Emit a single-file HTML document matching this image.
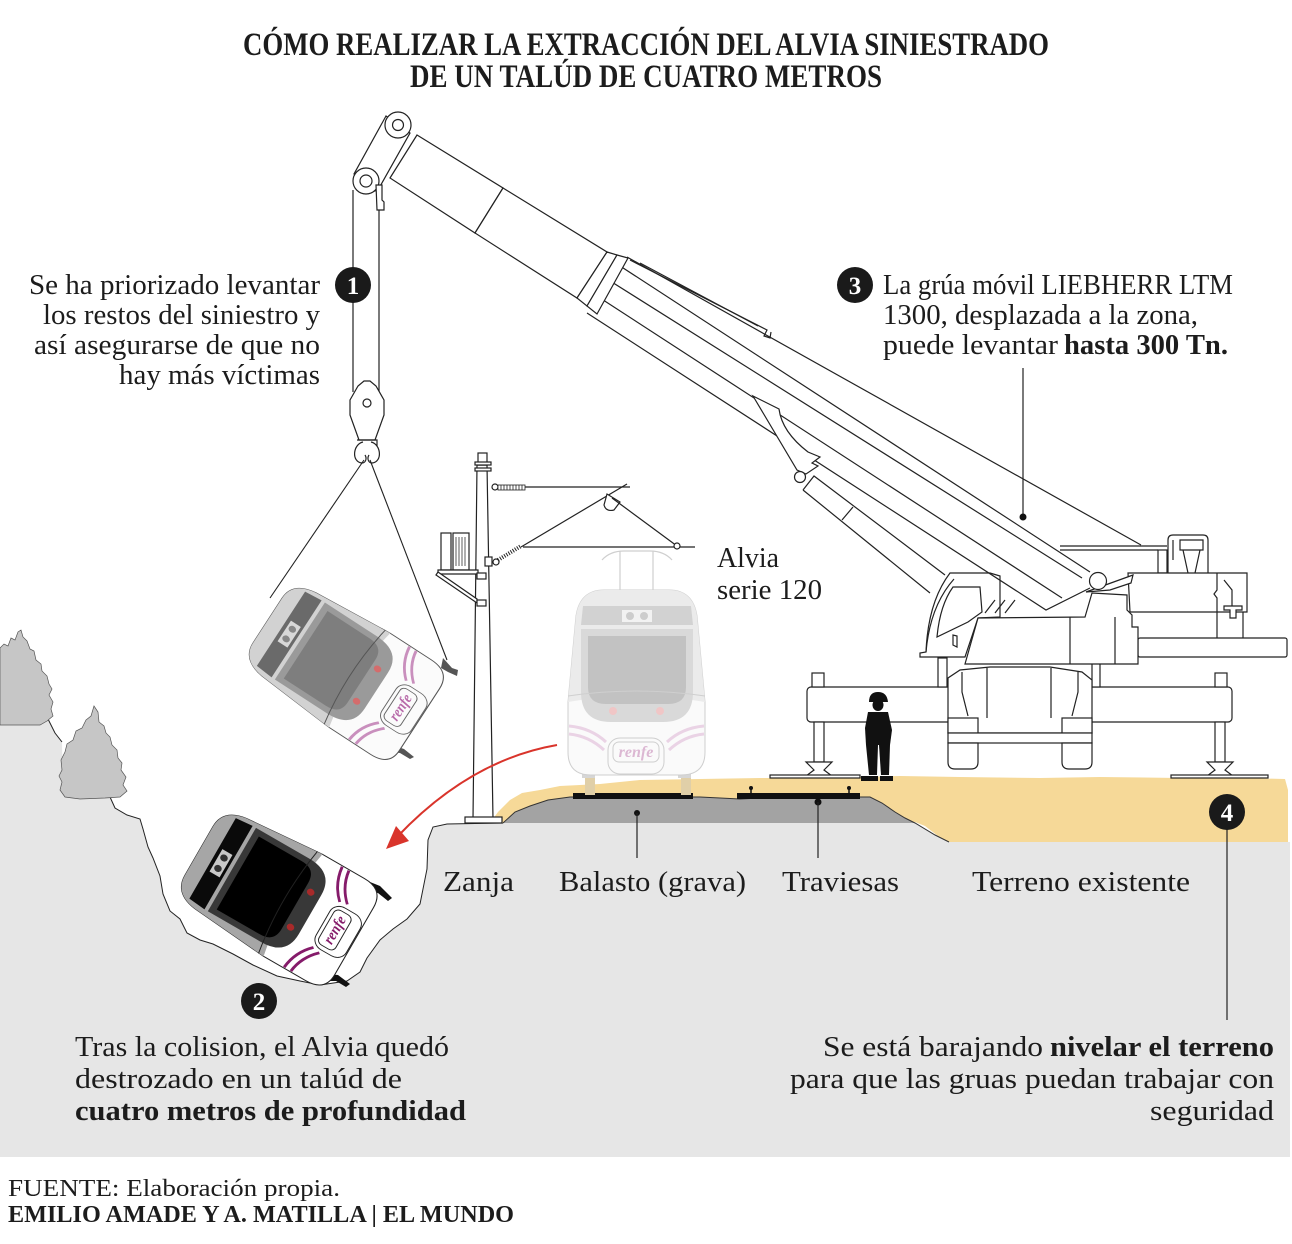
<!DOCTYPE html>
<html><head><meta charset="utf-8">
<style>
html,body{margin:0;padding:0;background:#fff;}
svg{display:block;}
text{font-family:"Liberation Serif",serif;fill:#1c1c1c;}
.ln{fill:none;stroke:#222;stroke-width:1.2;}
.wf{fill:#fff;stroke:#222;stroke-width:1.2;}
</style></head><body>
<svg width="1292" height="1244" viewBox="0 0 1292 1244" xmlns="http://www.w3.org/2000/svg">

<!-- TITLE -->
<text x="243" y="55" font-size="33" font-weight="bold" textLength="806" lengthAdjust="spacingAndGlyphs">CÓMO REALIZAR LA EXTRACCIÓN DEL ALVIA SINIESTRADO</text>
<text x="410" y="87" font-size="33" font-weight="bold" textLength="472" lengthAdjust="spacingAndGlyphs">DE UN TALÚD DE CUATRO METROS</text>

<!-- GROUND -->
<path d="M0,724 L20,723 L48,719 L55,733 L62,742 L63,790 L75,797 L110,797 L115,808 L127,815 L140,819 L143,829 L148,847 L153,858 L160,876 L163,894 L170,911 L180,919 L187,933 L200,940 L213,944 L233,954 L253,965 L277,976 L300,981 L320,985 L347,981 L360,972 L367,958 L380,940 L393,929 L407,919 L420,904 L427,869 L428,840 L433,827 L447,824 L503,823 L915,823 L949,842 L1290,842 L1290,1157 L0,1157 Z" fill="#e6e6e6"/>
<path d="M110,797 L115,808 L127,815 L140,819 L143,829 L148,847 L153,858 L160,876 L163,894 L170,911 L180,919 L187,933 L200,940 L213,944 L233,954 L253,965 L277,976 L300,981 L320,985 L347,981 L360,972 L367,958 L380,940 L393,929 L407,919 L420,904 L427,869 L428,840 L433,827 L447,824 L503,823" fill="none" stroke="#222" stroke-width="1"/>
<path d="M48,719 L55,733 L62,742" fill="none" stroke="#222" stroke-width="1"/>

<!-- trees -->
<path d="M0,648 L4,644 L8,646 L11,638 L15,640 L18,632 L21,630 L23,637 L27,641 L30,649 L34,651 L36,660 L41,664 L42,671 L47,676 L49,684 L52,689 L49,695 L53,702 L51,709 L53,716 L47,721 L40,725 L0,725 Z" fill="#c6c6c6" stroke="#555" stroke-width="0.7"/>
<path d="M62,770 L61,760 L65,752 L67,744 L73,740 L76,731 L82,728 L86,720 L91,716 L94,706 L98,712 L99,722 L104,726 L106,733 L110,737 L112,745 L117,750 L118,758 L122,763 L121,770 L126,777 L123,785 L127,791 L120,797 L105,798 L80,799 L65,797 L60,790 L62,782 L59,776 Z" fill="#c6c6c6" stroke="#555" stroke-width="0.7"/>

<!-- sand -->
<path d="M490,823 L498,812 L510,800 L522,793 L540,790 L560,786 L600,784 L640,780 L700,779 L760,778 L820,778 L900,776 L960,777 L1040,778 L1100,777 L1180,778 L1240,778 L1285,779 L1288,790 L1288,842 L949,842 L938,836 L925,826 L915,822 Z" fill="#f6d998"/>
<!-- ballast -->
<path d="M503,823 L515,812 L530,806 L548,800 L570,797 L700,797 L740,799 L780,797 L870,797 L882,803 L895,812 L905,818 L915,823 Z" fill="#a3a3a3"/>
<path d="M503,823 L515,812 L530,806 L548,800 L570,797 L700,797 L740,799 L780,797 L870,797 L882,803 L895,812 L905,818 L915,823 L935,835 L949,842" fill="none" stroke="#333" stroke-width="1"/>
<rect x="573" y="793" width="120" height="6" fill="#111"/>
<rect x="737" y="793" width="123" height="6" fill="#111"/>
<g stroke="#111" stroke-width="1.5">
<line x1="587" y1="788" x2="587" y2="795"/><line x1="687" y1="788" x2="687" y2="795"/>
<line x1="751" y1="788" x2="751" y2="795"/><line x1="849" y1="788" x2="849" y2="795"/>
</g>
<g fill="#111"><circle cx="587" cy="788" r="2"/><circle cx="687" cy="788" r="2"/><circle cx="751" cy="788" r="2"/><circle cx="849" cy="788" r="2"/></g>
<!-- leaders ground -->
<circle cx="637" cy="813" r="3" fill="#111"/><line x1="637" y1="813" x2="637" y2="858" stroke="#222" stroke-width="1.2"/>
<circle cx="818" cy="802" r="3.5" fill="#111"/><line x1="818" y1="802" x2="818" y2="858" stroke="#222" stroke-width="1.2"/>

<!-- CATENARY POLE -->
<path d="M477,465 L473,819 L493,819 L487,465 Z" class="wf"/>
<rect x="478" y="453" width="9" height="12" class="wf"/>
<rect x="475" y="462" width="16" height="3" class="wf"/>
<rect x="475" y="468" width="16" height="3" class="wf"/>
<rect x="465" y="817" width="37" height="6" class="wf"/>
<!-- equipment -->
<rect x="441" y="533" width="10" height="37" class="wf"/>
<rect x="453" y="533" width="16" height="37" class="wf"/>
<g stroke="#333" stroke-width="0.8"><line x1="456" y1="537" x2="456" y2="566"/><line x1="459" y1="537" x2="459" y2="566"/><line x1="462" y1="537" x2="462" y2="566"/><line x1="465" y1="537" x2="465" y2="566"/></g>
<path d="M438,570 L478,570 L478,574 L438,574 Z" class="wf"/>
<path d="M438,572 L477,599 L477,603 L436,575 Z" class="wf"/>
<rect x="477" y="573" width="9" height="6" class="wf"/>
<rect x="477" y="600" width="9" height="6" class="wf"/>
<!-- arms -->
<circle cx="495" cy="487" r="3" class="wf"/>
<rect x="498" y="485" width="27" height="5" fill="#fff" stroke="#222" stroke-width="0.8"/>
<g stroke="#222" stroke-width="0.8"><line x1="501" y1="485" x2="501" y2="490"/><line x1="504" y1="485" x2="504" y2="490"/><line x1="507" y1="485" x2="507" y2="490"/><line x1="510" y1="485" x2="510" y2="490"/><line x1="513" y1="485" x2="513" y2="490"/><line x1="516" y1="485" x2="516" y2="490"/><line x1="519" y1="485" x2="519" y2="490"/><line x1="522" y1="485" x2="522" y2="490"/></g>
<line x1="525" y1="487" x2="630" y2="487" class="ln"/>
<rect x="485" y="557" width="7" height="9" class="wf"/>
<circle cx="496" cy="562" r="3" class="wf"/>
<path d="M498,560 L521,546" stroke="#222" stroke-width="4" stroke-dasharray="1 1.5"/>
<line x1="523" y1="547" x2="695" y2="547" class="ln"/>
<line x1="521" y1="547" x2="627" y2="484" class="ln"/>
<path d="M607,494 L604,505 Q606,512 614,510 L620,502 Z" class="wf"/>
<line x1="612" y1="498" x2="677" y2="546" class="ln"/>
<circle cx="677" cy="546" r="3" class="wf"/>

<!-- UPRIGHT TRAIN (faded) -->
<g stroke="#cfcfcf" stroke-width="1.2" fill="none">
<line x1="620" y1="551" x2="620" y2="590"/><line x1="653" y1="551" x2="653" y2="590"/>
<path d="M602,560 Q610,551 624,551 L650,551 Q664,551 672,560"/>
</g>
<rect x="585" y="770" width="10" height="25" fill="#e0cfa8"/>
<rect x="681" y="770" width="10" height="25" fill="#e0cfa8"/>
<g transform="translate(636,682)">
<rect x="-54" y="82" width="13" height="14" fill="#d6d6d6"/><rect x="42" y="82" width="13" height="14" fill="#d6d6d6"/>
<path d="M-68,20 L-60,-66 Q-56,-92 -32,-92 L33,-92 Q57,-92 61,-66 L69,20 L69,70 Q69,93 45,93 L-45,93 Q-68,93 -68,70 Z" fill="#fafafa" stroke="#cfcfcf" stroke-width="1"/>
<path d="M-68,20 L-60,-66 Q-56,-92 -32,-92 L33,-92 Q57,-92 61,-66 L69,20 Q0,8 -68,20 Z" fill="#ebebeb"/>
<path d="M-53,-76 L55,-76 L57,-57 L-55,-57 Z" fill="#d2d2d2"/>
<rect x="-14" y="-72" width="30" height="12" fill="#f2f2f2"/>
<circle cx="-6" cy="-66" r="4" fill="#cdcdcd"/><circle cx="8" cy="-66" r="4" fill="#cdcdcd"/>
<path d="M-55,-53 L57,-53 L57,10 Q57,40 27,40 L-25,40 Q-55,40 -55,10 Z" fill="#d9d9d9"/>
<path d="M-48,-46 L50,-46 L50,5 Q50,22 32,22 L-30,22 Q-48,22 -48,5 Z" fill="#c2c2c2"/>
<circle cx="-23" cy="29" r="4" fill="#f0c6c6"/><circle cx="24" cy="29" r="4" fill="#f0c6c6"/>
<path d="M-68,14 Q0,4 69,14" fill="none" stroke="#cfcfcf"/>
<g fill="none" stroke="#ead3e5" stroke-width="3">
<path d="M-67,44 Q-45,46 -30,60"/><path d="M-67,52 Q-47,54 -32,68"/>
<path d="M68,44 Q46,46 31,60"/><path d="M68,52 Q48,54 33,68"/>
</g>
<rect x="-28" y="56" width="56" height="36" rx="12" fill="#fafafa" stroke="#cfcfcf"/>
<rect x="-23" y="60" width="46" height="20" rx="6" fill="none" stroke="#cfcfcf"/>
<text x="0" y="75" text-anchor="middle" font-style="italic" font-weight="bold" font-size="16" style="fill:#dcb8d3">renfe</text>
</g>

<!-- CRANE: outriggers & carrier -->
<rect x="807" y="687" width="425" height="35" rx="4" class="wf"/>
<rect x="812" y="673" width="12" height="14" class="wf"/>
<rect x="1215" y="673" width="12" height="14" class="wf"/>
<rect x="814" y="722" width="10" height="40" class="wf"/>
<rect x="1215" y="722" width="10" height="40" class="wf"/>
<path d="M806,762 L832,762 L824,770 L832,776 L806,776 L814,770 Z" class="wf"/>
<path d="M1207,762 L1233,762 L1225,770 L1233,776 L1207,776 L1215,770 Z" class="wf"/>
<rect x="770" y="775" width="90" height="3" class="wf"/>
<rect x="1171" y="775" width="97" height="3" class="wf"/>
<rect x="938" y="658" width="9" height="29" class="wf"/>
<rect x="1092" y="663" width="8" height="24" class="wf"/>
<path d="M948,733 L948,678 L960,670 L990,667 L1050,667 L1082,672 L1092,680 L1092,733 Z" class="wf"/>
<path d="M962,672 L962,692 L968,716 M1078,672 L1078,692 L1072,716 M987,668 L987,718 M1051,668 L1051,718" class="ln"/>
<rect x="948" y="718" width="30" height="15" class="wf"/>
<rect x="1062" y="718" width="30" height="15" class="wf"/>
<rect x="948" y="733" width="144" height="10" class="wf"/>
<path d="M948,743 L978,743 L978,762 Q978,769 971,769 L955,769 Q948,769 948,762 Z" class="wf"/>
<path d="M1062,743 L1092,743 L1092,762 Q1092,769 1085,769 L1069,769 Q1062,769 1062,762 Z" class="wf"/>
<!-- rear -->
<path d="M1060,546 L1167,546 M1060,550 L1158,550" class="ln"/>
<rect x="1158" y="550" width="9" height="23" class="wf"/>
<path d="M1168,573 L1168,540 Q1168,535 1173,535 L1203,535 Q1208,535 1208,540 L1208,573" class="wf"/>
<path d="M1180,540 L1203,540 L1203,550 L1180,550 Z M1183,550 L1188,573 M1200,550 L1195,573 M1173,540 L1173,560" class="ln"/>
<path d="M1128,573 L1247,573 L1247,612 L1130,612 Z" class="wf"/>
<path d="M1217,573 L1217,590 L1214,594 L1217,598 L1217,612 M1224,580 L1232,590 L1232,612" class="ln"/>
<path d="M1224,606 L1242,606 L1242,610 L1236,610 L1236,618 L1230,618 L1230,610 L1224,610 Z" class="wf"/>
<path d="M1217,612 L1217,638 M1243,612 L1243,638" class="ln"/>
<rect x="1138" y="638" width="149" height="19" rx="2" class="wf"/>
<!-- cab -->
<path d="M920,657 L920,653 L926,652 Q928,602 950,573 L990,573 L1000,576 L1000,617 L978,618 L965,657 Z" class="wf"/>
<path d="M926,652 Q930,606 954,579" class="ln"/>
<path d="M937,637 Q940,605 953,587 L980,587 L982,612 L968,622 Z" class="wf"/>
<path d="M953,635 L953,645 L957,647 L957,636 Z" class="wf"/>
<path d="M985,613 L995,600 M995,613 L1005,600 M1005,613 L1015,600" class="ln"/>

<!-- BOOM -->
<path d="M627,257 L1141,545" class="ln"/>
<path d="M630,260 L767,330 L764,336 L770,338 L771,332" class="ln"/>
<path d="M640,263 L758,326" class="ln" stroke-width="0.8"/>
<path d="M617,264 L1090,572" class="ln"/>
<path d="M607,279 L1082,578" class="ln"/>
<path d="M597,296 L1062,598" class="ln"/>
<path d="M587,313 L1046,610 L1090,588" class="ln"/>
<!-- head -->
<path d="M417,135 L503,188 L475,233 L390,178 Z" class="wf"/>
<path d="M503,188 L607,252 L577,298 L475,233 Z" class="wf"/>
<path d="M607,252 L617,255 L587,306 L577,298 Z" class="wf"/>
<path d="M617,255 L628,258 L597,314 L587,306 Z" class="wf"/>
<path d="M386,116 L354,174 L368,193 L378,190 L410,133 Z" class="wf"/>
<circle cx="398" cy="125" r="13" class="wf"/><circle cx="398" cy="125" r="5.5" class="wf"/>
<circle cx="366" cy="181" r="13" class="wf"/><circle cx="366" cy="181" r="6" class="wf"/>
<!-- cylinder -->
<path d="M803,490 L814,476 L945,575 M803,490 L930,593 M842,520 L853,507" class="ln"/>
<!-- sword -->
<path d="M753,396 L779,409 Q782,432 808,452 L820,457 L812,463 L818,466 L806,474 L797,470 Z" class="wf"/>
<circle cx="800" cy="477" r="5.5" class="wf"/>
<!-- main body block -->
<path d="M965,664 L978,618 L1085,617 L1092,593 L1127,595 L1127,610 L1132,615 L1132,627 L1138,627 L1138,664 Z" class="wf"/>
<path d="M1070,617 L1070,664 M1115,617 L1115,664" class="ln"/>
<path d="M1086,592 L1133,575 L1131,583 L1110,590 Z" class="wf"/>
<circle cx="1098" cy="581" r="8.5" class="wf"/>
<!-- leader 3 -->
<line x1="1023" y1="368" x2="1023" y2="517" stroke="#222" stroke-width="1.2"/>
<circle cx="1023" cy="517" r="3.5" fill="#111"/>
<!-- worker -->
<g fill="#111">
<path d="M869,702 Q869,692 878,692 Q887,692 888,702 Z"/>
<ellipse cx="878" cy="705" rx="5.5" ry="6"/>
<path d="M868,712 L888,712 L892,730 L890,745 L866,745 L865,728 Z"/>
<path d="M866,745 L878,745 L877,775 L869,775 Z"/>
<path d="M879,745 L890,745 L889,775 L881,775 Z"/>
<path d="M861,776 L878,776 L878,781 L861,781 Z"/>
<path d="M880,776 L893,776 L893,781 L880,781 Z"/>
</g>

<!-- HOOK & CABLES -->
<line x1="353" y1="190" x2="353" y2="392" stroke="#222" stroke-width="1.2"/>
<line x1="379" y1="205" x2="379" y2="392" stroke="#222" stroke-width="1.2"/>
<path d="M376,185 L382,185 L382,200 L384,202 L384,210 L377,210 Z" class="wf"/>
<path d="M364,381 L370,381 L376,386 L384,400 L384,415 L375,440 L359,440 L350,415 L350,400 L358,386 Z" class="wf"/>
<circle cx="367" cy="403" r="4" class="wf"/>
<path d="M357,440 L377,440 L377,446" class="ln"/>
<path d="M363,442 C353,444 351,462 362,463 C366,463 367,458 365,455 M371,442 C381,444 383,462 372,463 C368,463 367,458 369,455" class="ln"/>
<!-- slings -->
<line x1="364" y1="460" x2="270" y2="598" stroke="#222" stroke-width="1.1"/>
<line x1="370" y1="460" x2="447" y2="660" stroke="#222" stroke-width="1.1"/>

<!-- HANGING TRAIN -->
<path d="M443,658 L452,668 L458,670 L457,676 L448,672 L441,668 Z" fill="#555"/>
<path d="M392,745 L404,749 L414,757 L410,759 L400,753 L390,752 Z" fill="#555"/>
<g transform="translate(343,670) rotate(-57) scale(0.82,0.98)">
<path d="M-68,20 L-60,-66 Q-56,-92 -32,-92 L33,-92 Q57,-92 61,-66 L69,20 L69,70 Q69,93 45,93 L-45,93 Q-68,93 -68,70 Z" fill="#fbfbfb" stroke="#555" stroke-width="1.1"/>
<path d="M-68,20 L-60,-66 Q-56,-92 -32,-92 L33,-92 Q57,-92 61,-66 L69,20 Q0,8 -68,20 Z" fill="#d2d2d2"/>
<path d="M-53,-76 L55,-76 L57,-57 L-55,-57 Z" fill="#6a6a6a"/>
<rect x="-14" y="-72" width="30" height="12" fill="#d8d8d8"/>
<circle cx="-6" cy="-66" r="4" fill="#888"/><circle cx="8" cy="-66" r="4" fill="#888"/>
<path d="M-55,-53 L57,-53 L57,10 Q57,40 27,40 L-25,40 Q-55,40 -55,10 Z" fill="#9a9a9a"/>
<path d="M-48,-46 L50,-46 L50,5 Q50,22 32,22 L-30,22 Q-48,22 -48,5 Z" fill="#7e7e7e"/>
<circle cx="-23" cy="29" r="4" fill="#d46c6c"/><circle cx="24" cy="29" r="4" fill="#d46c6c"/>
<path d="M-68,14 Q0,4 69,14" fill="none" stroke="#555"/>
<g fill="none" stroke="#c98fbd" stroke-width="3">
<path d="M-67,44 Q-45,46 -30,60"/><path d="M-67,52 Q-47,54 -32,68"/>
<path d="M68,44 Q46,46 31,60"/><path d="M68,52 Q48,54 33,68"/>
</g>
<rect x="-28" y="56" width="56" height="36" rx="12" fill="#fbfbfb" stroke="#666"/>
<rect x="-23" y="60" width="46" height="20" rx="6" fill="none" stroke="#666"/>
<text x="0" y="75" text-anchor="middle" font-style="italic" font-weight="bold" font-size="16" style="fill:#b86aa9">renfe</text>
</g>

<!-- CRASHED TRAIN -->
<path d="M370,882 L380,886 L392,898 L388,901 L378,893 L369,892 Z" fill="#111"/>
<path d="M327,974 L338,975 L350,984 L346,987 L336,981 L326,981 Z" fill="#111"/>
<g transform="translate(276,896) rotate(-60) scale(0.86,0.97)">
<path d="M-68,20 L-60,-66 Q-56,-92 -32,-92 L33,-92 Q57,-92 61,-66 L69,20 L69,70 Q69,93 45,93 L-45,93 Q-68,93 -68,70 Z" fill="#fff" stroke="#222" stroke-width="1.1"/>
<path d="M-68,20 L-60,-66 Q-56,-92 -32,-92 L33,-92 Q57,-92 61,-66 L69,20 Q0,8 -68,20 Z" fill="#a6a6a6"/>
<path d="M-53,-76 L55,-76 L57,-57 L-55,-57 Z" fill="#0a0a0a"/>
<rect x="-14" y="-72" width="30" height="12" fill="#c8c8c8"/>
<circle cx="-6" cy="-66" r="4" fill="#333"/><circle cx="8" cy="-66" r="4" fill="#333"/>
<path d="M-55,-53 L57,-53 L57,10 Q57,40 27,40 L-25,40 Q-55,40 -55,10 Z" fill="#383838"/>
<path d="M-48,-46 L50,-46 L50,5 Q50,22 32,22 L-30,22 Q-48,22 -48,5 Z" fill="#000"/>
<circle cx="-23" cy="29" r="4" fill="#a82a2a"/><circle cx="24" cy="29" r="4" fill="#a82a2a"/>
<path d="M-68,14 Q0,4 69,14" fill="none" stroke="#222"/>
<g fill="none" stroke="#851b6a" stroke-width="3">
<path d="M-67,44 Q-45,46 -30,60"/><path d="M-67,52 Q-47,54 -32,68"/>
<path d="M68,44 Q46,46 31,60"/><path d="M68,52 Q48,54 33,68"/>
</g>
<rect x="-28" y="56" width="56" height="36" rx="12" fill="#fff" stroke="#222"/>
<rect x="-23" y="60" width="46" height="20" rx="6" fill="none" stroke="#222"/>
<text x="0" y="75" text-anchor="middle" font-style="italic" font-weight="bold" font-size="16" style="fill:#851b6a">renfe</text>
</g>

<!-- RED ARROW -->
<path d="M557,745 Q470,760 397,837" fill="none" stroke="#d9342b" stroke-width="2"/>
<path d="M386,849 L396,826 L409,841 Z" fill="#d9342b"/>

<!-- BADGES -->
<g>
<circle cx="353" cy="285" r="18" fill="#1a1a1a"/>
<circle cx="855" cy="285" r="18" fill="#1a1a1a"/>
<circle cx="259" cy="1001" r="18" fill="#1a1a1a"/>
<line x1="1227" y1="825" x2="1227" y2="1020" stroke="#222" stroke-width="1.2"/>
<circle cx="1227" cy="812" r="18" fill="#1a1a1a"/>
</g>
<g font-weight="bold" font-size="25" text-anchor="middle" style="fill:#fff">
<text x="353" y="294" style="fill:#fff">1</text>
<text x="855" y="294" style="fill:#fff">3</text>
<text x="259" y="1010" style="fill:#fff">2</text>
<text x="1227" y="821" style="fill:#fff">4</text>
</g>

<!-- TEXT BLOCKS -->
<g font-size="28">
<text x="29" y="294" textLength="291" lengthAdjust="spacingAndGlyphs">Se ha priorizado levantar</text>
<text x="43" y="324" textLength="277" lengthAdjust="spacingAndGlyphs">los restos del siniestro y</text>
<text x="34" y="354" textLength="286" lengthAdjust="spacingAndGlyphs">así asegurarse de que no</text>
<text x="119" y="384" textLength="201" lengthAdjust="spacingAndGlyphs">hay más víctimas</text>

<text x="883" y="294" textLength="350" lengthAdjust="spacingAndGlyphs">La grúa móvil LIEBHERR LTM</text>
<text x="883" y="324" textLength="315" lengthAdjust="spacingAndGlyphs">1300, desplazada a la zona,</text>
<text x="883" y="354" textLength="175" lengthAdjust="spacingAndGlyphs">puede levantar</text>
<text x="1064" y="354" font-weight="bold" textLength="164" lengthAdjust="spacingAndGlyphs">hasta 300 Tn.</text>

<text x="717" y="567" textLength="62" lengthAdjust="spacingAndGlyphs">Alvia</text>
<text x="717" y="599" textLength="105" lengthAdjust="spacingAndGlyphs">serie 120</text>

<text x="443" y="891" textLength="71" lengthAdjust="spacingAndGlyphs">Zanja</text>
<text x="559" y="891" textLength="187" lengthAdjust="spacingAndGlyphs">Balasto (grava)</text>
<text x="782" y="891" textLength="117" lengthAdjust="spacingAndGlyphs">Traviesas</text>
<text x="972" y="891" textLength="218" lengthAdjust="spacingAndGlyphs">Terreno existente</text>

<text x="75" y="1056" textLength="374" lengthAdjust="spacingAndGlyphs">Tras la colision, el Alvia quedó</text>
<text x="75" y="1088" textLength="327" lengthAdjust="spacingAndGlyphs">destrozado en un talúd de</text>
<text x="75" y="1120" font-weight="bold" textLength="391" lengthAdjust="spacingAndGlyphs">cuatro metros de profundidad</text>

<text x="823" y="1056" textLength="220" lengthAdjust="spacingAndGlyphs">Se está barajando</text>
<text x="1050" y="1056" font-weight="bold" textLength="224" lengthAdjust="spacingAndGlyphs">nivelar el terreno</text>
<text x="790" y="1088" textLength="484" lengthAdjust="spacingAndGlyphs">para que las gruas puedan trabajar con</text>
<text x="1150" y="1120" textLength="124" lengthAdjust="spacingAndGlyphs">seguridad</text>
</g>

<!-- FOOTER -->
<text x="8" y="1196" font-size="24" textLength="332" lengthAdjust="spacingAndGlyphs">FUENTE: Elaboración propia.</text>
<text x="8" y="1222" font-size="24" font-weight="bold" textLength="506" lengthAdjust="spacingAndGlyphs">EMILIO AMADE Y A. MATILLA | EL MUNDO</text>
</svg>
</body></html>
